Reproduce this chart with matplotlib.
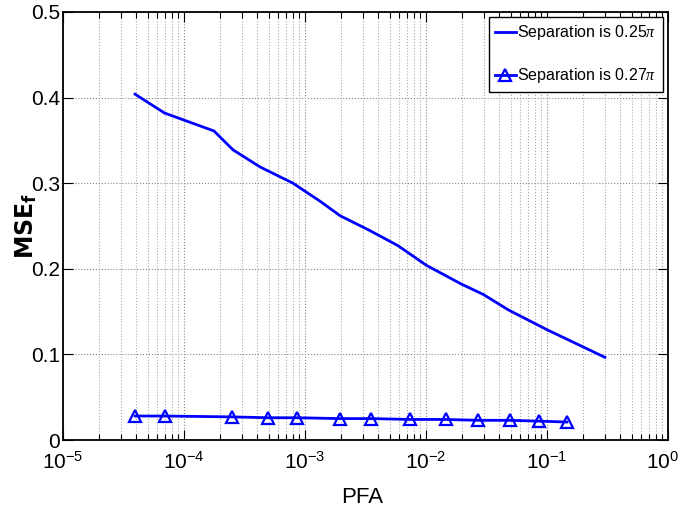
import matplotlib
matplotlib.use('Agg')
import matplotlib.pyplot as plt
from matplotlib.ticker import LogLocator, NullFormatter, FuncFormatter

plt.rcParams['font.family'] = ['Liberation Sans', 'DejaVu Sans']
plt.rcParams['mathtext.fontset'] = 'custom'
plt.rcParams['mathtext.rm'] = 'Liberation Sans'
plt.rcParams['mathtext.it'] = 'Liberation Serif:italic'
plt.rcParams['mathtext.bf'] = 'DejaVu Sans:bold'

# separazione 0.25 pi
pfa_025 = [3.94e-5, 6.9e-5, 1.77e-4, 2.54e-4, 4.25e-4, 7.96e-4, 1.33e-3, 1.95e-3,
           3.4e-3, 5.87e-3, 1.01e-2, 1.97e-2, 2.98e-2, 4.79e-2, 9.95e-2, 0.301]
mse_025 = [0.404, 0.382, 0.361, 0.339, 0.319, 0.300, 0.279, 0.262,
           0.245, 0.227, 0.204, 0.182, 0.170, 0.152, 0.129, 0.0966]

# separazione 0.27 pi
pfa_027 = [3.94e-5, 6.9e-5, 2.48e-4, 4.98e-4, 8.64e-4, 1.95e-3, 3.5e-3,
           7.4e-3, 1.46e-2, 2.67e-2, 4.94e-2, 8.63e-2, 0.146]
mse_027 = [0.028, 0.028, 0.027, 0.026, 0.026, 0.025, 0.025,
           0.024, 0.024, 0.023, 0.023, 0.022, 0.021]

decadi = [1e-5, 1e-4, 1e-3, 1e-2, 1e-1, 1e0]
esponenti = [-5, -4, -3, -2, -1, 0]


def etichetta_x(v, pos):
    # 10^0 viene scritto a parte, altrimenti esce dal bordo
    for d, e in zip(decadi, esponenti):
        if abs(v - d) < d * 1e-6:
            return '' if e == 0 else r'$\mathdefault{10^{%d}}$' % e
    return ''


fig = plt.figure(figsize=(6.82, 5.14), dpi=100)
ax = fig.add_axes([63 / 682, 74 / 514, 605 / 682, 428 / 514])

ax.semilogx(pfa_025, mse_025, '-', color='blue', lw=2, label=r'Separation is 0.25$\pi$')
ax.semilogx(pfa_027, mse_027, '-^', color='blue', lw=2, ms=9, mfc='none', mew=1.6,
            label=r'Separation is 0.27$\pi$')

ax.set_xlim(decadi[0], decadi[-1])
ax.set_ylim(0, 0.5)
ax.set_yticks([0, 0.1, 0.2, 0.3, 0.4, 0.5])
ax.set_yticklabels(['0', '0.1', '0.2', '0.3', '0.4', '0.5'])
ax.set_xticks(decadi)
ax.xaxis.set_major_formatter(FuncFormatter(etichetta_x))
ax.xaxis.set_minor_locator(LogLocator(base=10, subs=range(2, 10), numticks=20))
ax.xaxis.set_minor_formatter(NullFormatter())

ax.tick_params(which='both', direction='in', top=True, right=True, width=0.8)
ax.tick_params(axis='y', which='major', length=7, pad=2, labelsize=15)
ax.tick_params(axis='x', which='major', length=7, pad=8, labelsize=15)
ax.tick_params(which='minor', length=4)
ax.grid(True, which='major', linestyle=':', color='#888888', lw=0.8)
ax.grid(True, which='minor', axis='x', linestyle=':', color='#aaaaaa', lw=0.8)
for s in ax.spines.values():
    s.set_linewidth(1.3)

ax.annotate(r'$\mathdefault{10^{%d}}$' % esponenti[-1], xy=(decadi[-1], 0),
            xycoords=('data', 'axes fraction'), xytext=(-4, -8), textcoords='offset points',
            ha='center', va='top', fontsize=15)

ax.set_xlabel('PFA', fontsize=16)
ax.xaxis.set_label_coords(0.495, -0.11)
ax.set_ylabel(r'MSE$_\mathbf{f}$', fontsize=17, fontfamily='DejaVu Sans', fontweight='bold')
ax.yaxis.set_label_coords(-0.04, 0.5)

leg = ax.legend(loc='upper right', fontsize=11.5, fancybox=False, framealpha=1,
                edgecolor='black', borderpad=0.4, handlelength=1.3, handletextpad=0.1,
                labelspacing=1.5, borderaxespad=0.3)
leg.get_frame().set_linewidth(1.0)

fig.savefig('out.png', dpi=100)
